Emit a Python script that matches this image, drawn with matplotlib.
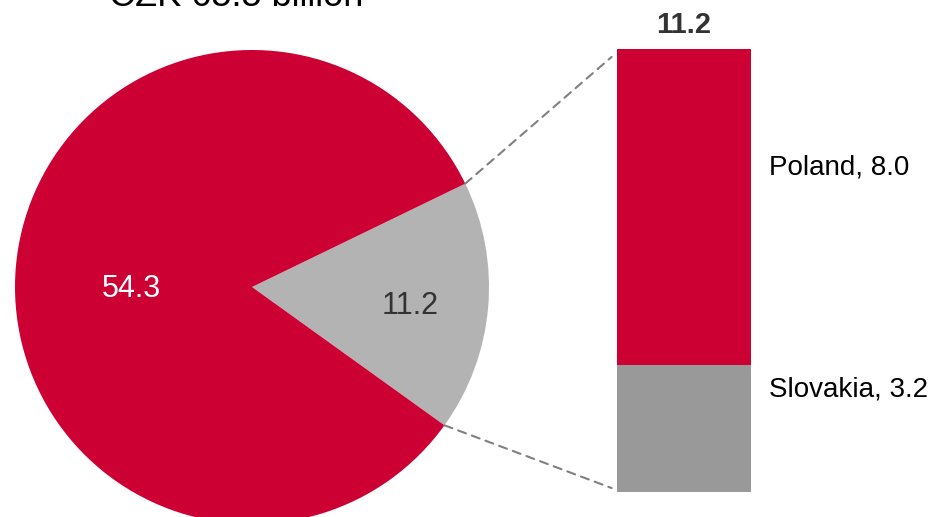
import numpy as np
import matplotlib.pyplot as plt
from matplotlib.patches import ConnectionPatch

plt.rcParams['font.family'] = ['Liberation Sans', 'DejaVu Sans']

# data
pie_values = [11.2, 54.3]          # abroad, domestic
pie_colors = ['#B3B3B3', '#CC0033']
pie_text_colors = ['#333333', 'white']
bar_labels = ['Slovakia', 'Poland']
bar_values = [3.2, 8.0]
bar_colors = ['#999999', '#CC0033']
total_label = 'CZK 65.5 billion'

W, H = 946, 517
fig = plt.figure(figsize=(W / 100, H / 100), dpi=100)

# pie: centre (252, 287) px from top-left, radius 237 px
cx, cy, r = 252, H - 287, 237
ax_pie = fig.add_axes([(cx - r) / W, (cy - r) / H, 2 * r / W, 2 * r / H])
wedges, _ = ax_pie.pie(pie_values, colors=pie_colors, startangle=-35.7,
                       counterclock=True, radius=1,
                       wedgeprops=dict(linewidth=0))
ax_pie.set_xlim(-1, 1)
ax_pie.set_ylim(-1, 1)
ax_pie.set_aspect('equal')
ax_pie.axis('off')

label_dist = [0.67, 0.51]
label_shift = [-2.0, 6.0]
for w, v, c, d, s in zip(wedges, pie_values, pie_text_colors, label_dist, label_shift):
    ang = np.deg2rad((w.theta1 + w.theta2) / 2 + s)
    ax_pie.text(d * np.cos(ang), d * np.sin(ang), f'{v:.1f}', color=c,
                fontsize=22, ha='center', va='center')

ax_pie.text(-0.065, 1.185, total_label, fontsize=26, ha='center',
            va='baseline', color='black', clip_on=False)

# stacked bar
bx0, bx1, by0, by1 = 617, 751, 49, 492
ax_bar = fig.add_axes([bx0 / W, (H - by1) / H, (bx1 - bx0) / W, (by1 - by0) / H])
bottom = 0
for lab, v, c in zip(bar_labels, bar_values, bar_colors):
    ax_bar.bar(0, v, width=1, bottom=bottom, color=c, linewidth=0)
    ax_bar.text(0.635, bottom + v / 2 + 1.0, f'{lab}, {v:.1f}',
                fontsize=20, ha='left', va='center', color='black')
    bottom += v
ax_bar.text(0, bottom + 0.25, f'{sum(bar_values):.1f}', fontsize=21,
            fontweight='bold', ha='center', va='bottom', color='#333333')
ax_bar.set_xlim(-0.5, 0.5)
ax_bar.set_ylim(0, bottom)
ax_bar.axis('off')

# connectors from the grey wedge edges to the bar
gw = wedges[0]
for theta, ybar, xoff in [(gw.theta2, bottom - 0.2, -0.54), (gw.theta1, 0.1, -0.54)]:
    t = np.deg2rad(theta)
    con = ConnectionPatch(xyA=(np.cos(t), np.sin(t)), coordsA=ax_pie.transData,
                          xyB=(xoff, ybar), coordsB=ax_bar.transData,
                          linestyle=(0, (4, 3)), color='#808080', linewidth=1.5)
    fig.add_artist(con)

fig.savefig('out.png', dpi=100)
